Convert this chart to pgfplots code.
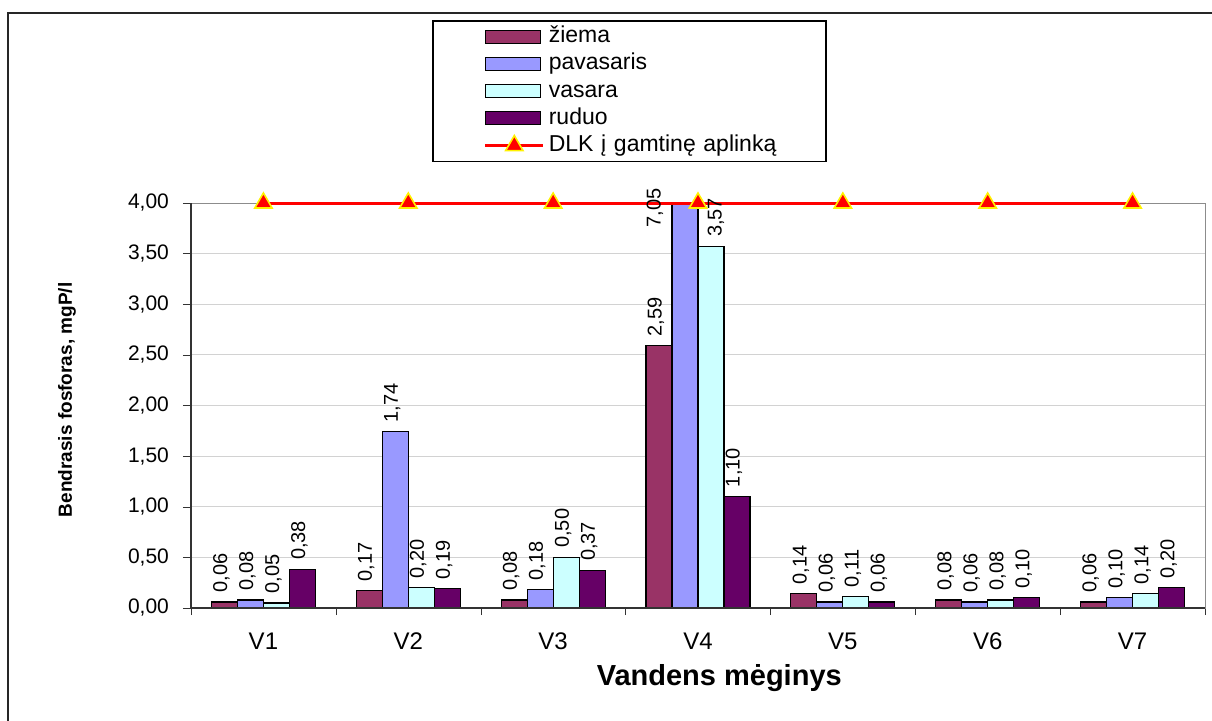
\documentclass[border=0pt]{standalone}
\usepackage{fontspec}
\setmainfont{Liberation Sans}
\usepackage{pgfplots}
\pgfplotsset{compat=1.18}
\definecolor{ziema}{HTML}{993366}
\definecolor{pavasaris}{HTML}{9999FF}
\definecolor{vasara}{HTML}{CCFFFF}
\definecolor{ruduo}{HTML}{660066}
\pgfplotsset{
  barplot/.style={ybar, bar width=13pt, bar shift=#1, draw=black, line width=0.6pt,
    point meta=rawy,
    nodes near coords={\pgfmathprintnumber[fixed,fixed zerofill,precision=2,use comma,assume math mode=true]{\pgfplotspointmeta}},
    every node near coord/.append style={font=\fontsize{10}{12}\selectfont, black, xshift=#1, xshift=-1.5pt, yshift=3.5pt, rotate=90, anchor=west, inner sep=1pt},
    legend image code/.code={\path (-21pt,0pt); \draw[##1] (0pt,-3.25pt) rectangle (27.5pt,3.25pt);}
  },
  dlklegend/.style={legend image code/.code={\path (-21pt,0pt); \draw[mark repeat=2, mark phase=2, ##1] plot coordinates {(0pt,0pt) (14.5pt,0pt) (29pt,0pt)};}},
}
\begin{document}
\begin{tikzpicture}
\useasboundingbox (0,0) rectangle (606pt,360pt);
\draw[line width=1pt, black!85] (3.75pt,-20pt) rectangle (640pt,353.5pt);
\begin{axis}[
  at={(95.5pt,56pt)}, anchor=south west,
  scale only axis, width=507pt, height=202.5pt,
  xmin=-0.5, xmax=6.5, ymin=0, ymax=4,
  clip=false,
  axis line style={gray!90},
  xtick={0,...,6}, xticklabels={V1,V2,V3,V4,V5,V6,V7},
  minor xtick={-0.5,0.5,...,6.5},
  ytick={0,0.5,...,4},
  xtick pos=bottom, ytick pos=left,
  tick align=outside,
  major x tick style={draw=none},
  minor x tick style={black!80},
  major y tick style={black!80},
  minor tick length=3.5pt,
  major tick length=4pt,
  ymajorgrids, major grid style={gray!35, line width=0.5pt},
  yticklabel style={font=\fontsize{10.5}{12}\selectfont, xshift=-3.5pt, /pgf/number format/.cd, fixed, fixed zerofill, precision=2, use comma, assume math mode=true},
  xticklabel style={font=\fontsize{12}{14}\selectfont, yshift=-5pt},
  xlabel={Vandens mėginys},
  xlabel style={at={(axis description cs:0.521,-0.173)}, anchor=center, font=\bfseries\fontsize{14.5}{17}\selectfont},
  ylabel={Bendrasis fosforas, mgP/l},
  ylabel style={at={(axis description cs:-0.1223,0.514)}, anchor=center, font=\bfseries\fontsize{9.5}{12}\selectfont},
  legend style={at={(axis description cs:0.2377,1.452)}, anchor=north west, draw=black, line width=0.8pt,
    inner xsep=4.5pt, inner ysep=2.5pt, row sep=2.6pt, column sep=2pt,
    font=\fontsize{11.5}{13}\selectfont,
    nodes={text width=134pt, inner sep=0pt, text height=8.5pt, text depth=2.5pt, align=left}},
  legend cell align=left,
  coordinate style/.condition={meta>4}{xshift=-13.5pt, yshift=-17pt},
  coordinate style/.condition={meta>3.5 && meta<4}{xshift=4pt},
  after end axis/.code={\draw[black!80, line width=0.6pt] (rel axis cs:0,1) -- (rel axis cs:0,0) -- (rel axis cs:1,0);},
]
\addplot[barplot=-19.5pt, fill=ziema] coordinates {(0,0.06) (1,0.17) (2,0.08) (3,2.59) (4,0.14) (5,0.08) (6,0.06)};
\addplot[barplot=-6.5pt, fill=pavasaris, restrict y to domain*=0:4] coordinates {(0,0.08) (1,1.74) (2,0.18) (3,7.05) (4,0.06) (5,0.06) (6,0.10)};
\addplot[barplot=6.5pt, fill=vasara] coordinates {(0,0.05) (1,0.20) (2,0.50) (3,3.57) (4,0.11) (5,0.08) (6,0.14)};
\addplot[barplot=19.5pt, fill=ruduo] coordinates {(0,0.38) (1,0.19) (2,0.37) (3,1.10) (4,0.06) (5,0.10) (6,0.20)};
\addplot[dlklegend, red, line width=1.5pt, mark=triangle*, mark size=5pt,
  mark options={fill=red, draw=yellow, line width=0.8pt, solid}]
  coordinates {(0,4) (1,4) (2,4) (3,4) (4,4) (5,4) (6,4)};
\legend{žiema, pavasaris, vasara, ruduo, DLK į gamtinę aplinką}
\end{axis}
\end{tikzpicture}
\end{document}
